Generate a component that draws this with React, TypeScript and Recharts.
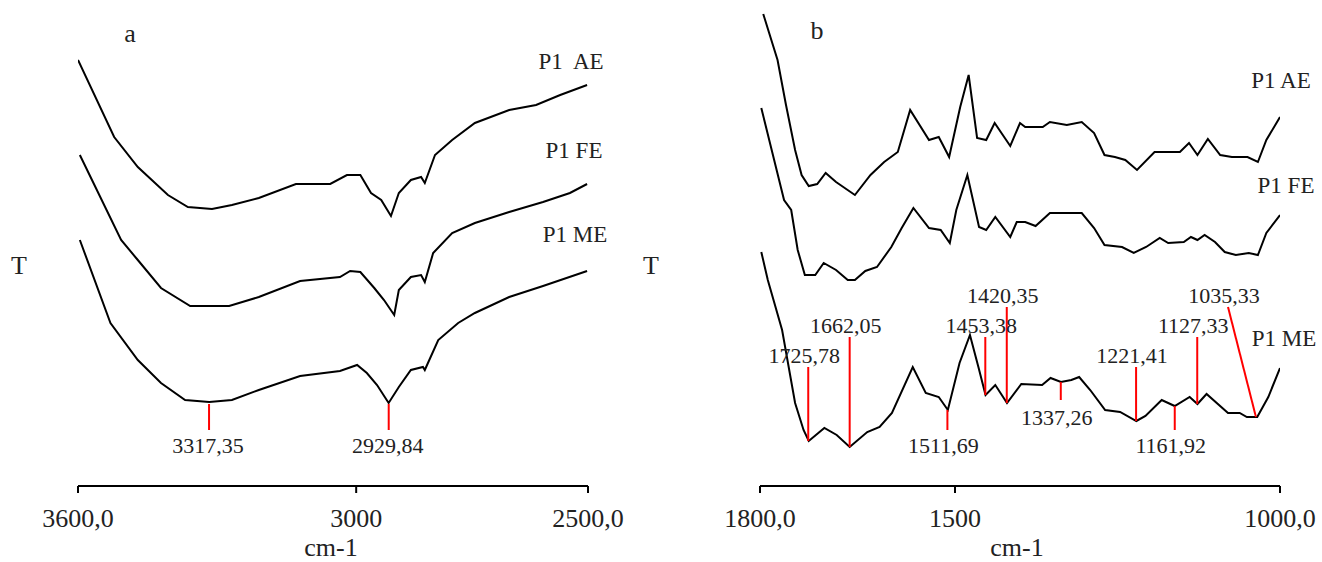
import React from 'react';
import { LineChart, Line, XAxis, YAxis, ReferenceLine, ReferenceDot } from 'recharts';

// wavenumber (cm-1), transmittance (arbitrary units)
const hfAE: [number, number][] = [
  [3600, 426], [3522, 349], [3471, 319], [3406, 291], [3363, 279], [3311, 277], [3268, 281],
  [3210, 288], [3130, 302], [3056, 302], [3020, 311], [2991, 311], [2968, 293], [2946, 286],
  [2925, 270], [2908, 293], [2882, 306], [2860, 309], [2852, 303], [2830, 331], [2793, 346],
  [2744, 363], [2670, 376], [2612, 381], [2560, 391], [2502, 401],
];
const hfFE: [number, number][] = [
  [3596, 331], [3507, 246], [3471, 226], [3421, 198], [3358, 180], [3274, 180], [3210, 189],
  [3121, 205], [3035, 209], [3013, 215], [2991, 214], [2961, 198], [2940, 186], [2918, 171],
  [2908, 196], [2882, 209], [2860, 211], [2852, 204], [2834, 233], [2793, 253], [2744, 263],
  [2670, 274], [2597, 284], [2539, 293], [2502, 302],
];
const hfME: [number, number][] = [
  [3596, 246], [3530, 163], [3471, 126], [3421, 103], [3369, 86], [3317, 84], [3268, 86],
  [3210, 96], [3121, 110], [3035, 115], [2998, 121], [2977, 113], [2955, 101], [2930, 83],
  [2908, 99], [2882, 116], [2856, 119], [2852, 116], [2823, 146], [2780, 163], [2744, 173],
  [2670, 189], [2597, 200], [2502, 215],
];

const lfAE: [number, number][] = [
  [1795, 472], [1773, 426], [1760, 381], [1746, 336], [1736, 311], [1725, 300], [1712, 302],
  [1699, 313], [1683, 304], [1654, 291], [1630, 311], [1609, 324], [1588, 334], [1569, 376],
  [1540, 346], [1525, 349], [1509, 329], [1492, 379], [1479, 411], [1466, 348], [1452, 346],
  [1439, 363], [1415, 340], [1400, 363], [1392, 359], [1365, 359], [1354, 364], [1328, 361],
  [1305, 364], [1286, 353], [1270, 331], [1254, 329], [1238, 326], [1220, 316], [1193, 334],
  [1154, 334], [1140, 343], [1127, 331], [1111, 347], [1092, 331], [1074, 329], [1050, 329],
  [1034, 324], [1021, 346], [1000, 369],
];
const lfFE: [number, number][] = [
  [1798, 378], [1763, 286], [1752, 276], [1742, 236], [1731, 211], [1715, 211], [1702, 223],
  [1683, 216], [1665, 206], [1654, 206], [1638, 215], [1620, 219], [1598, 239], [1582, 258],
  [1564, 278], [1540, 258], [1522, 256], [1508, 243], [1498, 276], [1481, 311], [1463, 259],
  [1452, 256], [1438, 269], [1415, 249], [1405, 264], [1392, 264], [1376, 260], [1354, 273],
  [1305, 273], [1286, 258], [1270, 241], [1243, 239], [1225, 233], [1206, 239], [1185, 248],
  [1172, 243], [1148, 244], [1137, 249], [1127, 246], [1116, 251], [1100, 244], [1085, 234],
  [1068, 231], [1048, 233], [1034, 231], [1021, 253], [1000, 271],
];
const lfME: [number, number][] = [
  [1798, 234], [1788, 206], [1766, 156], [1746, 83], [1733, 56], [1725, 45], [1701, 58],
  [1682, 51], [1662, 39], [1635, 54], [1616, 59], [1597, 73], [1565, 119], [1545, 93],
  [1525, 89], [1511, 76], [1493, 123], [1477, 151], [1464, 119], [1453, 91], [1438, 101],
  [1420, 83], [1398, 102], [1366, 101], [1353, 108], [1337, 104], [1321, 106], [1309, 109],
  [1292, 96], [1269, 76], [1246, 74], [1221, 65], [1207, 70], [1182, 86], [1162, 80],
  [1139, 89], [1127, 82], [1113, 92], [1080, 73], [1062, 73], [1051, 69], [1035, 69],
  [1018, 89], [1000, 118],
];

// peak marks: [label, wn at top, top T, wn at bottom, bottom T, label T]
const hfPeaks: [string, number, number, number, number, number][] = [
  ['3317,35', 3317.35, 82, 3317.35, 56, 41],
  ['2929,84', 2929.84, 82, 2929.84, 56, 41],
];
const lfPeaks: [string, number, number, number, number, number][] = [
  ['1725,78', 1725.78, 119, 1725.78, 45, 131],
  ['1662,05', 1662.05, 149, 1662.05, 39, 161],
  ['1511,69', 1511.69, 76, 1511.69, 56, 41],
  ['1453,38', 1453.38, 149, 1453.38, 91, 161],
  ['1420,35', 1420.35, 179, 1420.35, 83, 191],
  ['1337,26', 1337.26, 104, 1337.26, 86, 69],
  ['1221,41', 1221.41, 119, 1221.41, 65, 131],
  ['1161,92', 1161.92, 80, 1161.92, 56, 41],
  ['1127,33', 1127.33, 149, 1127.33, 82, 161],
  ['1035,33', 1080, 179, 1037, 69, 191],
];

const hfTicks = [3600, 3000, 2500];
const hfTickLabels = ['3600,0', '3000', '2500,0'];
const lfTicks = [1800, 1500, 1000];
const lfTickLabels = ['1800,0', '1500', '1000,0'];

const FONT = '"Liberation Serif", "Times New Roman", serif';
const INK = '#222';

const toRows = (pts: [number, number][]) => pts.map(([wn, t]) => ({ wn, t }));

function Txt({ x, y, size, children }: { x: number; y: number; size: number; children: React.ReactNode }) {
  return (
    <div
      style={{
        position: 'absolute',
        left: x,
        top: y,
        transform: 'translate(-50%, -50%)',
        fontFamily: FONT,
        fontSize: size,
        lineHeight: 1,
        whiteSpace: 'pre',
        color: INK,
      }}
    >
      {children}
    </div>
  );
}

function Panel({
  width,
  margin,
  domain,
  tMax,
  ticks,
  tickLabels,
  series,
  peaks,
  labelDx,
}: {
  width: number;
  margin: { top: number; right: number; bottom: number; left: number };
  domain: [number, number];
  tMax: number;
  ticks: number[];
  tickLabels: string[];
  series: [number, number][][];
  peaks: [string, number, number, number, number, number][];
  labelDx: number;
}) {
  return (
    <LineChart width={width} height={562} margin={margin}>
      <XAxis
        type="number"
        dataKey="wn"
        domain={domain}
        reversed
        allowDataOverflow
        ticks={ticks}
        interval={0}
        tickFormatter={(v: number) => tickLabels[ticks.indexOf(v)] ?? ''}
        tickSize={7}
        tickMargin={16}
        axisLine={{ stroke: '#000', strokeWidth: 2 }}
        tickLine={{ stroke: '#000', strokeWidth: 2 }}
        tick={{ fill: INK, fontSize: 26, fontFamily: FONT }}
        height={30}
      />
      <YAxis
        type="number"
        domain={[0, tMax]}
        allowDataOverflow
        ticks={[0, tMax]}
        width={0}
        tick={false}
        tickSize={7}
        axisLine={{ stroke: '#000', strokeWidth: 2 }}
        tickLine={{ stroke: '#000', strokeWidth: 2 }}
      />
      {series.map((s, i) => (
        <Line
          key={i}
          data={toRows(s)}
          dataKey="t"
          type="linear"
          stroke="#000"
          strokeWidth={2}
          dot={false}
          isAnimationActive={false}
        />
      ))}
      {peaks.map(([label, wnTop, tTop, wnBot, tBot]) => (
        <ReferenceLine
          key={'l' + label}
          segment={[
            { x: wnTop, y: tTop },
            { x: wnBot, y: tBot },
          ]}
          stroke="#ff0000"
          strokeWidth={2}
          ifOverflow="visible"
        />
      ))}
      {peaks.map(([label, wnTop, , , , tLabel]) => (
        <ReferenceDot
          key={'d' + label}
          x={wnTop}
          y={tLabel}
          r={0}
          fill="none"
          stroke="none"
          ifOverflow="visible"
          label={{ value: label, position: 'center', fill: INK, fontSize: 22, fontFamily: FONT, dx: labelDx }}
        />
      ))}
    </LineChart>
  );
}

export default function App() {
  return (
    <div style={{ position: 'absolute', left: 0, top: 0, width: 1322, height: 562, background: '#fff' }}>
      <div style={{ position: 'absolute', left: 0, top: 0 }}>
        <Panel
          width={660}
          margin={{ top: 18, right: 72, bottom: 46, left: 78 }}
          domain={[2500, 3600]}
          tMax={468}
          ticks={hfTicks}
          tickLabels={hfTickLabels}
          series={[hfAE, hfFE, hfME]}
          peaks={hfPeaks}
          labelDx={-1}
        />
      </div>
      <div style={{ position: 'absolute', left: 682, top: 0 }}>
        <Panel
          width={640}
          margin={{ top: 13, right: 42, bottom: 46, left: 78 }}
          domain={[1000, 1800]}
          tMax={473}
          ticks={lfTicks}
          tickLabels={lfTickLabels}
          series={[lfAE, lfFE, lfME]}
          peaks={lfPeaks}
          labelDx={-4}
        />
      </div>

      <Txt x={130} y={34} size={26}>a</Txt>
      <Txt x={817} y={31} size={26}>b</Txt>
      <Txt x={19} y={266} size={26}>T</Txt>
      <Txt x={651} y={266} size={26}>T</Txt>
      <Txt x={331} y={548} size={26}>cm-1</Txt>
      <Txt x={1017} y={548} size={26}>cm-1</Txt>

      <Txt x={571} y={61} size={23}>{'P1  AE'}</Txt>
      <Txt x={574} y={150} size={23}>P1 FE</Txt>
      <Txt x={575} y={234} size={23}>P1 ME</Txt>
      <Txt x={1281} y={80} size={23}>P1 AE</Txt>
      <Txt x={1286} y={185} size={23}>P1 FE</Txt>
      <Txt x={1284} y={338} size={23}>P1 ME</Txt>
    </div>
  );
}
